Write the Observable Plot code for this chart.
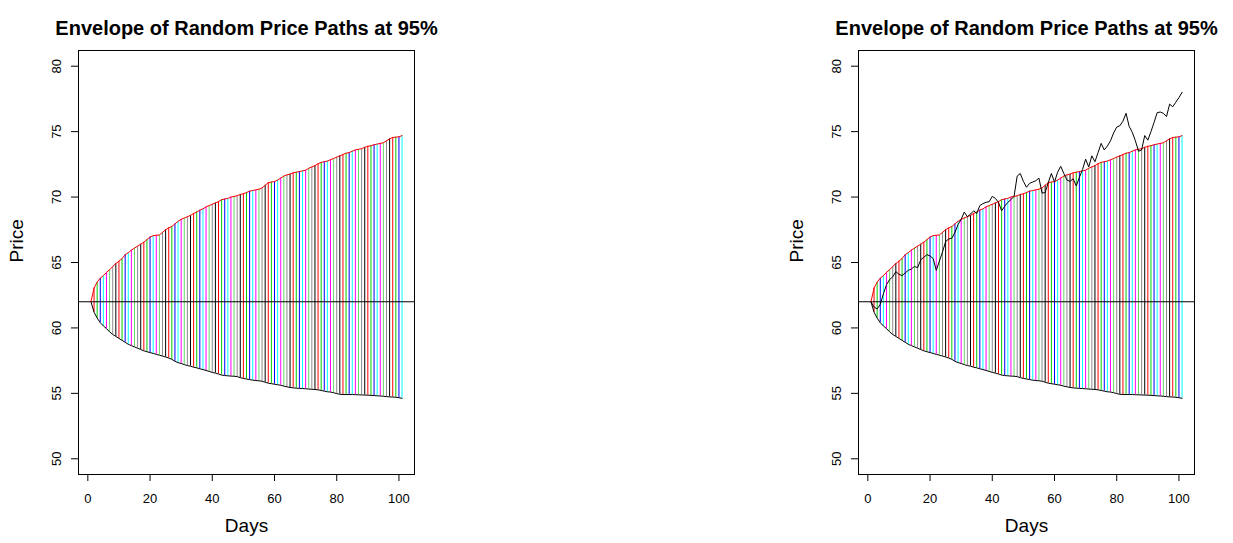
<!DOCTYPE html>
<html>
<head>
<meta charset="utf-8">
<script src="https://cdn.jsdelivr.net/npm/d3@7"></script>
<script src="https://cdn.jsdelivr.net/npm/@observablehq/plot@0.6"></script>
<style>
  body { margin: 0; background: #fff; font-family: "Liberation Sans", Arial, Helvetica, sans-serif; }
  #wrap { position: relative; width: 1233px; height: 543px; background: #fff; overflow: hidden; }
  .panel { position: absolute; top: 0; }
</style>
</head>
<body>
<div id="wrap"></div>
<script>
// ---- data ----
const titleText = "Envelope of Random Price Paths at 95%";
const xLabel = "Days";
const yLabel = "Price";
const xTicks = [0, 20, 40, 60, 80, 100];
const yTicks = [50, 55, 60, 65, 70, 75, 80];
const startPrice = 62;

const upper = [
  62.0, 63.05, 63.5, 63.8, 64.0, 64.25, 64.45, 64.7, 64.92, 65.1,
  65.3, 65.6, 65.75, 65.95, 66.1, 66.25, 66.4, 66.55, 66.75, 66.95,
  67.05, 67.08, 67.1, 67.3, 67.5, 67.65, 67.75, 67.95, 68.15, 68.3,
  68.4, 68.5, 68.6, 68.75, 68.85, 69.0, 69.1, 69.25, 69.35, 69.45,
  69.55, 69.65, 69.8, 69.85, 69.9, 70.0, 70.05, 70.1, 70.2, 70.25,
  70.35, 70.45, 70.5, 70.55, 70.6, 70.7, 70.9, 71.1, 71.15, 71.18,
  71.3, 71.45, 71.6, 71.7, 71.75, 71.85, 71.9, 71.95, 72.0, 72.05,
  72.2, 72.3, 72.4, 72.55, 72.65, 72.7, 72.75, 72.85, 72.95, 73.05,
  73.15, 73.25, 73.35, 73.4, 73.5, 73.6, 73.65, 73.7, 73.8, 73.88,
  73.92, 74.0, 74.05, 74.1, 74.15, 74.3, 74.45, 74.55, 74.58, 74.6,
  74.7
];
const lower = [
  62.0, 61.2, 60.75, 60.4, 60.15, 59.95, 59.7, 59.5, 59.35, 59.2,
  59.05, 58.9, 58.75, 58.65, 58.55, 58.45, 58.35, 58.25, 58.18, 58.12,
  58.05, 57.98, 57.92, 57.85, 57.78, 57.7, 57.6, 57.45, 57.35, 57.28,
  57.2, 57.12, 57.08, 57.0, 56.95, 56.88, 56.82, 56.75, 56.68, 56.6,
  56.55, 56.48, 56.4, 56.36, 56.34, 56.32, 56.31, 56.28, 56.2, 56.14,
  56.1, 56.05, 56.01, 55.98, 55.96, 55.93, 55.85, 55.78, 55.74, 55.7,
  55.66, 55.62, 55.55, 55.5, 55.45, 55.42, 55.4, 55.38, 55.37, 55.35,
  55.33, 55.31, 55.3, 55.27, 55.22, 55.17, 55.12, 55.1, 55.05, 54.98,
  54.93, 54.91, 54.91, 54.91, 54.91, 54.9, 54.89, 54.88, 54.87, 54.86,
  54.85, 54.83, 54.81, 54.8, 54.78, 54.75, 54.73, 54.72, 54.7, 54.67,
  54.62
];
const path = [
  62.0, 61.6, 61.45, 61.8, 62.6, 63.3, 63.7, 63.9, 64.3, 64.1,
  64.0, 64.2, 64.4, 64.5, 64.7, 64.6, 65.2, 65.4, 65.6, 65.5,
  65.3, 64.4, 65.1, 65.8, 66.6, 66.8, 66.85, 67.3, 67.9, 68.3,
  68.85, 68.5, 68.7, 68.95, 68.75, 69.35, 69.5, 69.6, 69.65, 70.05,
  69.9, 69.6, 68.95, 69.3, 69.6, 69.8, 70.05, 71.6, 71.8, 71.2,
  70.75, 71.05, 71.15, 71.25, 71.45, 70.3, 70.35, 71.1, 71.8, 71.15,
  71.9, 72.35, 71.8, 71.3, 71.2, 71.4, 70.85, 71.5, 72.1, 72.9,
  72.3, 73.15, 72.7, 73.4, 74.1, 73.6, 73.9, 74.3, 74.9, 75.35,
  75.45, 75.8, 76.4, 75.4, 74.95, 74.3, 73.5, 73.6, 74.7, 74.35,
  75.0, 75.7, 76.45, 76.5, 76.4, 76.15, 77.1, 76.9, 77.25, 77.6,
  78.0
];
// segment colours, recycled across the days
const palette = ["black", "red", "#00CD00", "blue", "cyan", "magenta", "#66D866", "#8c8c8c"];

// ---- build tables ----
const days = d3.range(1, upper.length + 1);
const env = days.map((d, i) => ({day: d, hi: upper[i], lo: lower[i], col: palette[i % palette.length]}));
const pathRows = days.map((d, i) => ({day: d, price: path[i]}));

const W = 440, H = 543;
function panel(withPath) {
  const marks = [
    Plot.ruleX(env, {x: "day", y1: "lo", y2: "hi", stroke: "col", strokeWidth: 1}),
    Plot.ruleY([startPrice], {stroke: "black", strokeWidth: 1}),
    Plot.line(env, {x: "day", y: "hi", stroke: "red", strokeWidth: 1}),
    Plot.line(env, {x: "day", y: "lo", stroke: "black", strokeWidth: 1})
  ];
  if (withPath) marks.push(Plot.line(pathRows, {x: "day", y: "price", stroke: "black", strokeWidth: 1}));
  marks.push(
    Plot.frame({stroke: "black", strokeWidth: 1}),
    Plot.axisX({ticks: xTicks, tickSize: 7, tickPadding: 12, fontSize: 13, label: null, tickFormat: d => String(d)}),
    Plot.axisY({ticks: yTicks, tickSize: 7, tickRotate: -90, tickPadding: 11, fontSize: 13, label: null, tickFormat: d => String(d)}),
    Plot.text([xLabel], {frameAnchor: "bottom", dy: 57, fontSize: 19, fill: "black"}),
    Plot.text([yLabel], {frameAnchor: "left", dx: -62, rotate: -90, fontSize: 19, fill: "black"}),
    Plot.text([titleText], {frameAnchor: "top", dy: -30, fontSize: 20, fontWeight: "bold", fill: "black"})
  );
  return Plot.plot({
    width: W, height: H,
    marginLeft: 78, marginRight: 26, marginTop: 50, marginBottom: 69,
    x: {domain: [-3, 105]},
    y: {domain: [48.8, 81.2]},
    color: {type: "identity"},
    style: {fontFamily: "Liberation Sans, Arial, Helvetica, sans-serif", background: "white", color: "black", overflow: "visible"},
    marks
  });
}

const wrap = document.getElementById("wrap");
const p1 = panel(false); p1.classList.add("panel"); p1.style.left = "0px";
const p2 = panel(true);  p2.classList.add("panel"); p2.style.left = "780px";
wrap.appendChild(p1);
wrap.appendChild(p2);
</script>
</body>
</html>
